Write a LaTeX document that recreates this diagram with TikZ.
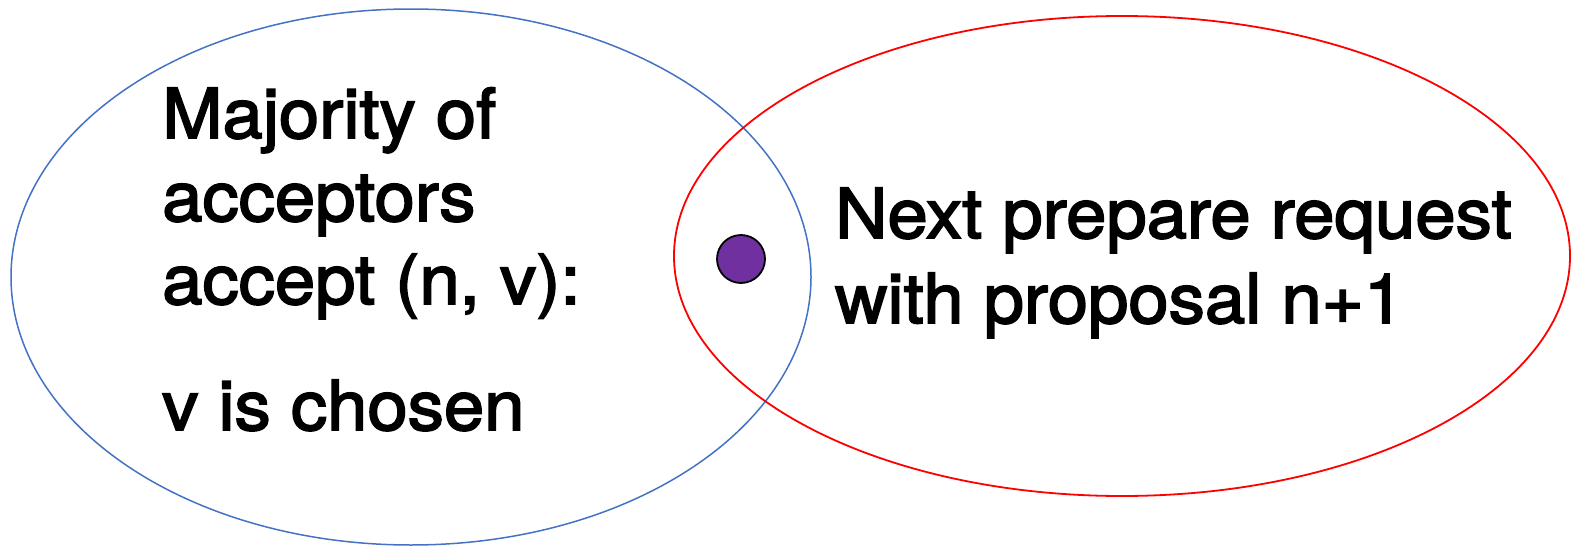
\documentclass[tikz,border=0pt]{standalone}
\usepackage{fontspec}
\setmainfont{TeX Gyre Heros}[FakeStretch=1.05, FakeBold=2.5]
\definecolor{setblue}{HTML}{4472C4}
\definecolor{setred}{HTML}{FF0000}
\definecolor{valpurple}{HTML}{7030A0}
\tikzset{
	label text/.style={anchor=base west, inner sep=0pt, align=left,
			font=\fontsize{69}{83}\selectfont}
}

\begin{document}
\begin{tikzpicture}[x=1pt, y=-1pt]

	\useasboundingbox (0,0) rectangle (1572,546);

	% The two sets
	\draw[setblue, line width=1.5pt] (411,277) ellipse [x radius=400, y radius=268];
	\draw[setred, line width=1.8pt] (1122,256) ellipse [x radius=448, y radius=240];

	% Value lying in both sets
	\node[circle, draw=black, line width=1.8pt, fill=valpurple,
		minimum size=48pt, inner sep=0pt] (val) at (741,259) {};

	% Labels (base anchor sits on the last line)
	\node[label text] (majority) at (162,304) {Majority of\\acceptors\\accept (n, v):};
	\node[label text] (chosen) at (162,430) {v is chosen};
	\node[label text, font=\fontsize{69}{85}\selectfont] (nextreq) at (835,323)
		{Next prepare request\\with proposal n+1};

\end{tikzpicture}
\end{document}
